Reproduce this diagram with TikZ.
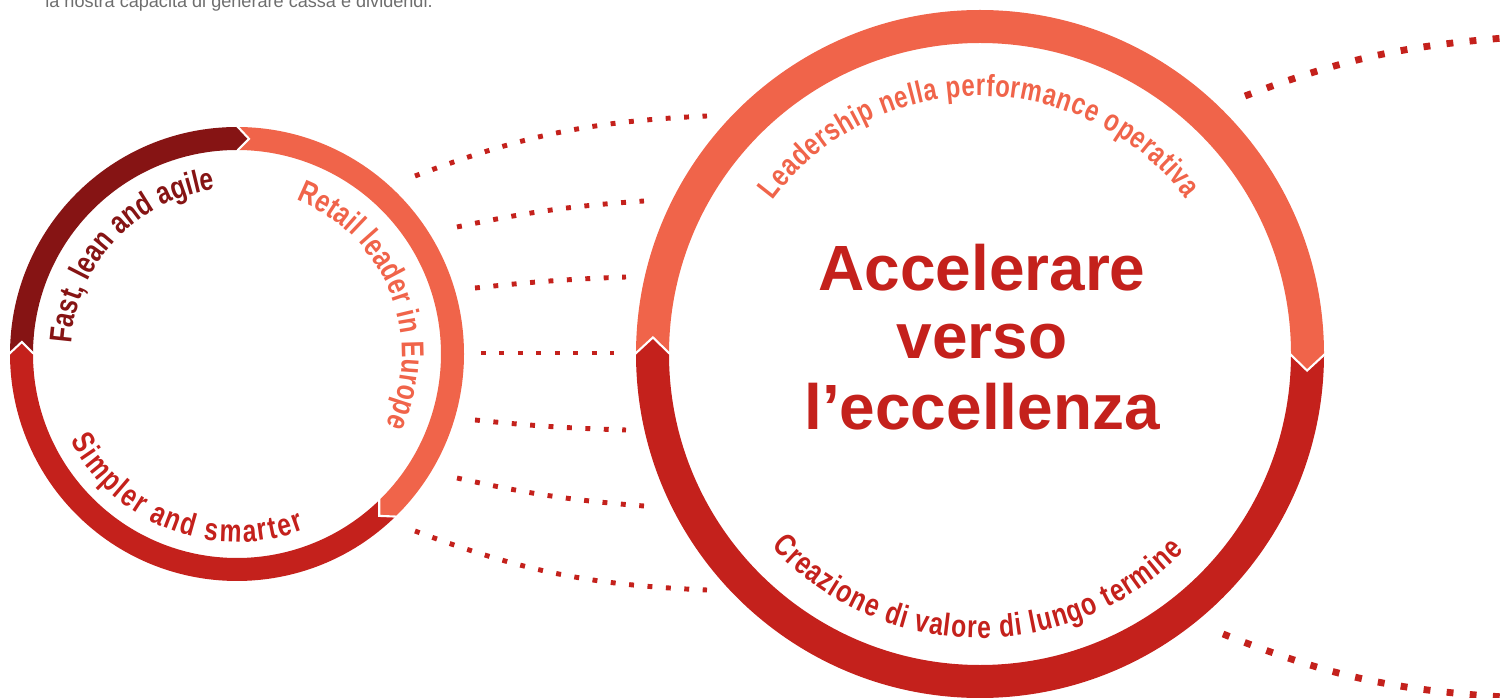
\documentclass[tikz,border=0pt]{standalone}
\usepackage{fontspec}
\setmainfont{Liberation Sans}
\newfontfamily\condfont[FakeStretch=0.78]{Liberation Sans}
\usetikzlibrary{decorations.text}
\definecolor{salmon}{RGB}{240,100,74}
\definecolor{accred}{RGB}{196,33,28}
\definecolor{deepred}{RGB}{134,20,20}
\definecolor{textgray}{RGB}{110,110,110}

\begin{document}
\begin{tikzpicture}[x=0.02cm, y=0.02cm,
   dots/.style={accred, line width=2.8pt, dash pattern=on 2.8pt off 7.7pt},
   bigdots/.style={accred, line width=3.9pt, dash pattern=on 3.9pt off 9.3pt},
   joint/.style={white, line width=1.2pt},
   accel/.style={accred, anchor=base, font=\bfseries\fontsize{36.4}{40}\selectfont},
   ringtext/.style={decorate, decoration={text along path, text align={fit to path}, text={#1}}}]

   \useasboundingbox (0,0) rectangle (1504,697);

   % 上の文
   \node [anchor=base west, inner sep=0pt, textgray, font=\fontsize{10.3}{12}\selectfont] (intro) at (45,689) {la nostra capacità di generare cassa e dividendi.};

   \coordinate (c1) at (237,343);
   \coordinate (c2) at (980,343);

   % 左の円
   \begin{scope}[shift={(c1)}]
      \fill [deepred] (180:227) arc[start angle=180, end angle=90, radius=227] -- (86.8:215.5) -- (90:204) arc[start angle=90, end angle=180, radius=204] -- (176.8:215.5) -- cycle;
      \fill [salmon] (90:227) arc[start angle=90, end angle=-45.5, radius=227] -- (-48.7:215.5) -- (-45.5:204) arc[start angle=-45.5, end angle=90, radius=204] -- (86.8:215.5) -- cycle;
      \fill [accred] (-45.5:227) arc[start angle=-45.5, end angle=-180, radius=227] -- (-183.2:215.5) -- (-180:204) arc[start angle=-180, end angle=-45.5, radius=204] -- (-48.7:215.5) -- cycle;
      \draw [joint] (180:228) -- (176.8:215.5) -- (180:203);
      \draw [joint] (90:228) -- (86.8:215.5) -- (90:203);
      \draw [joint] (-45.5:228) -- (-48.7:215.5) -- (-45.5:203);
   \end{scope}
   \path [ringtext={|\condfont\bfseries\fontsize{18}{21}\selectfont\color{deepred}|Fast, lean and agile}] (c1) ++(176.5:166) arc[start angle=176.5, end angle=97.5, radius=166];
   \path [ringtext={|\condfont\bfseries\fontsize{18}{21}\selectfont\color{salmon}|Retail leader in Europe}] (c1) ++(69:165) arc[start angle=69, end angle=-25.5, radius=165];
   \path [ringtext={|\condfont\bfseries\fontsize{18}{21}\selectfont\color{accred}|Simpler and smarter}] (c1) ++(207.5:188) arc[start angle=207.5, end angle=291, radius=188];

   % 右の円
   \begin{scope}[shift={(c2)}]
      \fill [salmon] (180:344) arc[start angle=180, end angle=0, radius=344] -- (-2.9:327.5) -- (0:311) arc[start angle=0, end angle=180, radius=311] -- (177.1:327.5) -- cycle;
      \fill [accred] (0:344) arc[start angle=0, end angle=-180, radius=344] -- (-182.9:327.5) -- (-180:311) arc[start angle=-180, end angle=0, radius=311] -- (-2.9:327.5) -- cycle;
      \draw [joint] (180:345) -- (177.1:327.5) -- (180:310);
      \draw [joint] (0:345) -- (-2.9:327.5) -- (0:310);
   \end{scope}
   \path [ringtext={|\condfont\bfseries\fontsize{17.5}{20}\selectfont\color{salmon}|Leadership nella performance operativa}] (c2) ++(143.5:258) arc[start angle=143.5, end angle=37, radius=258];
   \path [ringtext={|\condfont\bfseries\fontsize{18}{21}\selectfont\color{accred}|Creazione di valore di lungo termine}] (c2) ++(222.7:284) arc[start angle=222.7, end angle=316, radius=284];

   \node [accel] (acc1) at (982,406) {Accelerare};
   \node [accel] (acc2) at (982,338) {verso};
   \node [accel] (acc3) at (982,268) {l’eccellenza};

   % 点線
   \coordinate (a1) at (415,521); \coordinate (b1) at (707,581);
   \coordinate (a2) at (457,470); \coordinate (b2) at (644,496);
   \coordinate (a3) at (475,409); \coordinate (b3) at (626,420);
   \coordinate (a4) at (481,344); \coordinate (b4) at (614,344);
   \coordinate (a5) at (475,277); \coordinate (b5) at (626,267);
   \coordinate (a6) at (457,219); \coordinate (b6) at (644,191);
   \coordinate (a7) at (415,166); \coordinate (b7) at (707,107);
   \draw [dots] (a1) to[bend left=9] (b1);
   \draw [dots] (a2) to[bend left=4] (b2);
   \draw [dots] (a3) to[bend left=2] (b3);
   \draw [dots] (a4) -- (b4);
   \draw [dots] (a5) to[bend right=2] (b5);
   \draw [dots] (a6) to[bend right=4] (b6);
   \draw [dots] (a7) to[bend right=9] (b7);

   \coordinate (a8) at (1245,601); \coordinate (b8) at (1504,659);
   \coordinate (a9) at (1223,63); \coordinate (b9) at (1504,0);
   \draw [bigdots] (a8) to[bend left=8] (b8);
   \draw [bigdots] (a9) to[bend right=9] (b9);

\end{tikzpicture}
\end{document}
